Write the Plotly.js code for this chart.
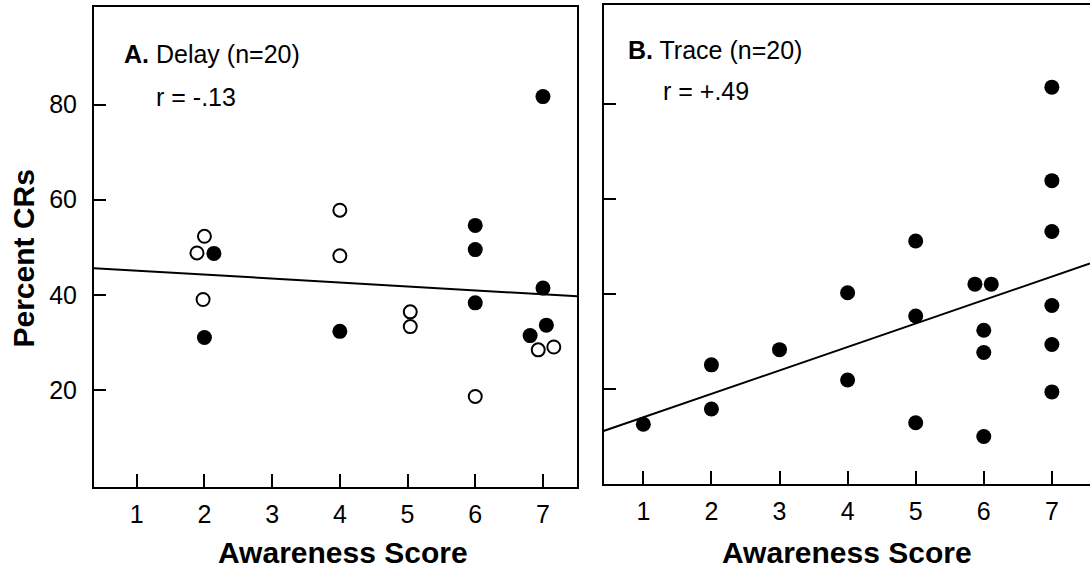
<!DOCTYPE html>
<html>
<head>
<meta charset="utf-8">
<script src="https://cdn.plot.ly/plotly-3.0.1.min.js"></script>
<style>html,body{margin:0;padding:0;background:#fff;}#chart{width:1090px;height:569px;}</style>
</head>
<body>
<div id="chart"></div>
<script>
// ---- Data ----
// Panel A: Delay (n=20) — open and filled circles (x slightly offset where points overlap)
const delayOpenX   = [1.89, 2.00, 1.98, 4.00, 4.00, 5.04, 5.04, 6.00, 6.93, 7.16];
const delayOpenY   = [48.8, 52.3, 39.0, 57.8, 48.2, 36.4, 33.3, 18.6, 28.4, 29.0];
const delayFilledX = [2.14, 2.00, 4.00, 6.00, 6.00, 6.00, 7.00, 7.00, 7.05, 6.81];
const delayFilledY = [48.7, 31.0, 32.3, 54.6, 49.5, 38.3, 81.7, 41.4, 33.6, 31.4];
// Panel B: Trace (n=20)
const traceX = [7, 7, 7, 5, 5.87, 6.11, 4, 5, 7, 6, 6, 7, 3, 2, 4, 7, 2, 1, 5, 6];
const traceY = [83.5, 63.8, 53.1, 51.1, 42.0, 42.0, 40.2, 35.3, 37.5, 32.3, 27.6, 29.3, 28.2, 25.0, 21.8, 19.3, 15.7, 12.5, 12.8, 9.9];
// Regression lines
const delayFitIntercept = 45.9, delayFitSlope = -0.83;
const traceFitIntercept = 9.0,  traceFitSlope = 4.94;
// Tick labels
const xTicks = [1, 2, 3, 4, 5, 6, 7];
const yTicks = [20, 40, 60, 80];
const panelLabels = ['<b>A.</b> Delay (n=20)', '<b>B.</b> Trace (n=20)'];
const rLabels = ['r = -.13', 'r = +.49'];
const xTitle = 'Awareness Score';
const yTitle = 'Percent CRs';

// ---- Layout geometry ----
const W = 1090, H = 569;
const FONT = 'Liberation Sans, Arial, Helvetica, sans-serif';
const xRangeA = [0.369, 7.507], xRangeB = [0.415, 7.56];
const yRangeA = [-0.4, 100.5], yRangeB = [-0.1, 100.8];
const px = v => v / W, py = v => 1 - v / H;

function fitLine(range, b, m) {
  return {x: [range[0], range[1]], y: [b + m * range[0], b + m * range[1]]};
}
const fa = fitLine(xRangeA, delayFitIntercept, delayFitSlope);
const fb = fitLine(xRangeB, traceFitIntercept, traceFitSlope);

const traces = [
  {x: fa.x, y: fa.y, xaxis: 'x', yaxis: 'y', mode: 'lines', line: {color: '#000', width: 2}, hoverinfo: 'skip'},
  {x: delayOpenX, y: delayOpenY, xaxis: 'x', yaxis: 'y', mode: 'markers',
   marker: {symbol: 'circle', size: 13, color: '#fff', line: {color: '#000', width: 2}}},
  {x: delayFilledX, y: delayFilledY, xaxis: 'x', yaxis: 'y', mode: 'markers',
   marker: {symbol: 'circle', size: 15, color: '#000', line: {width: 0}}},
  {x: fb.x, y: fb.y, xaxis: 'x2', yaxis: 'y2', mode: 'lines', line: {color: '#000', width: 2}, hoverinfo: 'skip'},
  {x: traceX, y: traceY, xaxis: 'x2', yaxis: 'y2', mode: 'markers',
   marker: {symbol: 'circle', size: 15, color: '#000', line: {width: 0}}}
];

const axBase = {
  showgrid: false, zeroline: false, showline: true, linecolor: '#000', linewidth: 2,
  ticks: 'inside', tickcolor: '#000', tickwidth: 2, mirror: true,
  tickfont: {family: FONT, size: 25, color: '#000'}
};

const layout = {
  width: W, height: H, margin: {l: 0, r: 0, t: 0, b: 0},
  paper_bgcolor: '#fff', plot_bgcolor: '#fff', showlegend: false,
  font: {family: FONT, color: '#000'},
  xaxis: Object.assign({}, axBase, {domain: [px(94), px(577.3)], range: xRangeA, anchor: 'y',
    tickmode: 'array', tickvals: xTicks, ticktext: xTicks.map(String), ticklen: 13, ticklabelstandoff: 4}),
  yaxis: Object.assign({}, axBase, {domain: [py(486.7), py(7.3)], range: yRangeA, anchor: 'x',
    tickmode: 'array', tickvals: yTicks, ticktext: yTicks.map(String), ticklen: 12, ticklabelstandoff: 10}),
  xaxis2: Object.assign({}, axBase, {domain: [px(603.5), 1], range: xRangeB, anchor: 'y2',
    tickmode: 'array', tickvals: xTicks, ticktext: xTicks.map(String), ticklen: 13, ticklabelstandoff: 4}),
  yaxis2: Object.assign({}, axBase, {domain: [py(484), py(5)], range: yRangeB, anchor: 'x2', mirror: false,
    tickmode: 'array', tickvals: yTicks, showticklabels: false, ticklen: 12}),
  annotations: [
    {text: panelLabels[0], xref: 'paper', yref: 'paper', x: px(122), y: py(54), xanchor: 'left', yanchor: 'middle',
     showarrow: false, font: {family: FONT, size: 25, color: '#000'}},
    {text: rLabels[0], xref: 'paper', yref: 'paper', x: px(154), y: py(97), xanchor: 'left', yanchor: 'middle',
     showarrow: false, font: {family: FONT, size: 25, color: '#000'}},
    {text: panelLabels[1], xref: 'paper', yref: 'paper', x: px(625.5), y: py(50.5), xanchor: 'left', yanchor: 'middle',
     showarrow: false, font: {family: FONT, size: 25, color: '#000'}},
    {text: rLabels[1], xref: 'paper', yref: 'paper', x: px(661), y: py(91), xanchor: 'left', yanchor: 'middle',
     showarrow: false, font: {family: FONT, size: 25, color: '#000'}},
    {text: '<b>' + yTitle + '</b>', xref: 'paper', yref: 'paper', x: px(23), y: py(258.5), xanchor: 'center', yanchor: 'middle',
     textangle: -90, showarrow: false, font: {family: FONT, size: 30, color: '#000'}},
    {text: '<b>' + xTitle + '</b>', xref: 'paper', yref: 'paper', x: px(343), y: py(552), xanchor: 'center', yanchor: 'middle',
     showarrow: false, font: {family: FONT, size: 30, color: '#000'}},
    {text: '<b>' + xTitle + '</b>', xref: 'paper', yref: 'paper', x: px(846.5), y: py(552), xanchor: 'center', yanchor: 'middle',
     showarrow: false, font: {family: FONT, size: 30, color: '#000'}}
  ]
};

Plotly.newPlot('chart', traces, layout, {staticPlot: true, displayModeBar: false});
</script>
</body>
</html>
